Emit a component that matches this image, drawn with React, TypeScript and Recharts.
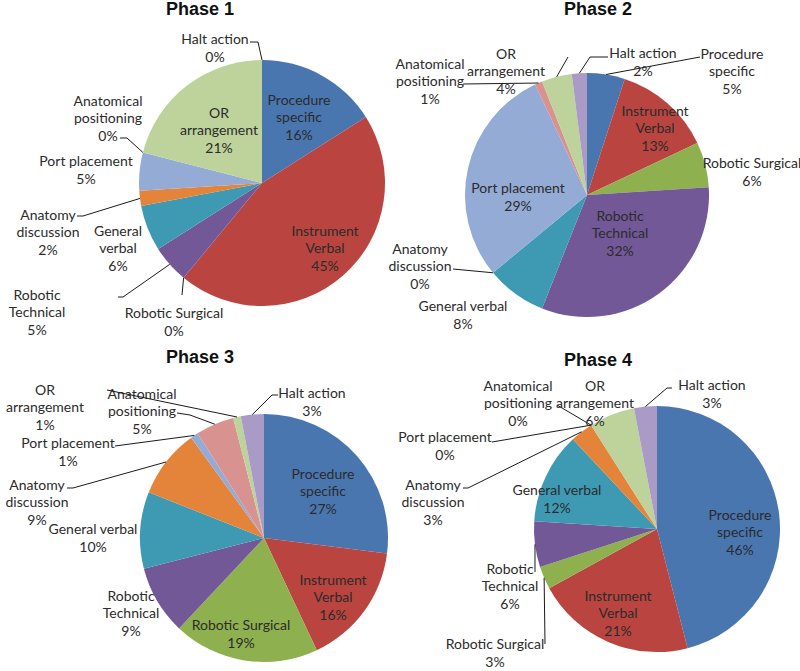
import { PieChart, Pie, Cell } from "recharts"

const categories = [
  "Procedure specific",
  "Instrument Verbal",
  "Robotic Surgical",
  "Robotic Technical",
  "General verbal",
  "Anatomy discussion",
  "Port placement",
  "Anatomical positioning",
  "OR arrangement",
  "Halt action",
]

const phase1Values = [16, 45, 0, 5, 6, 2, 5, 0, 21, 0]
const phase2Values = [5, 13, 6, 32, 8, 0, 29, 1, 4, 2]
const phase3Values = [27, 16, 19, 9, 10, 9, 1, 5, 1, 3]
const phase4Values = [46, 21, 3, 6, 12, 3, 0, 0, 6, 3]

const phaseTitles = ["Phase 1", "Phase 2", "Phase 3", "Phase 4"]

const colors = [
  "#4A76B0",
  "#BA4540",
  "#8FB04F",
  "#735897",
  "#3E9AB3",
  "#E4843A",
  "#94ABD6",
  "#D8928F",
  "#BDD39B",
  "#A99BC6",
]

// label layout: [dx, dy, wrapWords, leader points] relative to the pie centre
type Spot = [number, number, boolean, number[][]?]

const spots1: Spot[] = [
  [37, -66, true],
  [63, 65, true],
  [-88, 139, false, [[-80, 112]]],
  [-225, 129, true, [[-144, 114], [-139, 114]]],
  [-144, 65, true],
  [-214, 49, true, [[-185, 33], [-179, 33]]],
  [-176, -13, false],
  [-154, -65, true, [[-142, -45], [-135, -45]]],
  [-43, -53, true],
  [-47, -135, false, [[-12, -141], [-4, -141]]],
]

const spots2: Spot[] = [
  [145, -124, true, [[113, -138]]],
  [68, -67, true],
  [165, -23, false],
  [33, 38, true],
  [-124, 120, false],
  [-167, 71, true, [[-134, 74]]],
  [-69, 2, false],
  [-157, -114, true, [[-124, -111]]],
  [-81, -124, true, [[-19, -138]]],
  [56, -133, false, [[21, -138], [3, -138]]],
]

const spots3: Spot[] = [
  [59, -47, true],
  [69, 59, true],
  [-23, 96, false],
  [-133, 75, true],
  [-171, 0, false],
  [-227, -36, true, [[-197, -50], [-191, -50]]],
  [-196, -86, false, [[-149, -92]]],
  [-122, -127, true, [[-87, -125], [-74, -123]]],
  [-219, -131, true, [[-157, -148]]],
  [48, -136, false, [[14, -143], [8, -143]]],
]

const spots4: Spot[] = [
  [83, 3, true],
  [-39, 84, true],
  [-162, 124, false, [[-112, 115]]],
  [-147, 57, true, [[-122, 43]]],
  [-100, -30, false],
  [-224, -27, true, [[-194, -41], [-189, -41]]],
  [-212, -83, false, [[-165, -87]]],
  [-139, -126, true, [[-100, -124]]],
  [-62, -126, true],
  [55, -135, false, [[15, -141], [10, -141]]],
]

const pies = [
  { values: phase1Values, spots: spots1, cx: 257, cy: 178, r: 123, titleX: 200, titleY: 0 },
  { values: phase2Values, spots: spots2, cx: 582, cy: 190, r: 122, titleX: 598, titleY: 0 },
  { values: phase3Values, spots: spots3, cx: 259, cy: 533, r: 124, titleX: 200, titleY: 348 },
  { values: phase4Values, spots: spots4, cx: 652, cy: 524, r: 123, titleX: 598, titleY: 351 },
]

const RAD = Math.PI / 180
const LINE_H = 17.5

function makeLabel(spots: Spot[]) {
  return (props: any) => {
    const { cx, cy, midAngle, outerRadius, percent, index } = props
    const [dx, dy, wrap, leader] = spots[index]
    const name = categories[index]
    const lines = [...(wrap ? name.split(" ") : [name]), `${Math.round(percent * 100)}%`]
    const x = cx + dx
    const top = cy + dy - ((lines.length - 1) * LINE_H) / 2
    let line = null
    if (leader) {
      const ex = cx + outerRadius * Math.cos(-midAngle * RAD)
      const ey = cy + outerRadius * Math.sin(-midAngle * RAD)
      const pts = [...leader.map(([a, b]) => [cx + a, cy + b]), [ex, ey]]
      line = (
        <polyline
          points={pts.map((p) => p.join(",")).join(" ")}
          fill="none"
          stroke="#1a1a1a"
          strokeWidth={1}
        />
      )
    }
    return (
      <g>
        {line}
        <text x={x} textAnchor="middle" fill="#2b2b2b" fontSize={14} fontFamily="Lato, sans-serif">
          {lines.map((l, i) => (
            <tspan key={i} x={x} y={top + i * LINE_H + 5}>
              {l}
            </tspan>
          ))}
        </text>
      </g>
    )
  }
}

export default function App() {
  return (
    <div style={{ position: "absolute", left: 0, top: 0, width: 800, height: 671, background: "#fff" }}>
      {pies.map((p, k) => (
        <div
          key={k}
          style={{
            position: "absolute",
            left: p.titleX - 60,
            top: p.titleY,
            width: 120,
            textAlign: "center",
            fontFamily: "'Liberation Sans', Arial, sans-serif",
            fontWeight: "bold",
            fontSize: 18,
            lineHeight: "18px",
            color: "#111",
          }}
        >
          {phaseTitles[k]}
        </div>
      ))}
      <PieChart width={800} height={671}>
        {pies.map((p, k) => (
          <Pie
            key={k}
            data={categories.map((name, i) => ({ name, value: p.values[i] }))}
            dataKey="value"
            nameKey="name"
            cx={p.cx}
            cy={p.cy}
            outerRadius={p.r}
            startAngle={90}
            endAngle={-270}
            stroke="none"
            labelLine={false}
            label={makeLabel(p.spots)}
            isAnimationActive={false}
          >
            {categories.map((c, i) => (
              <Cell key={c} fill={colors[i]} />
            ))}
          </Pie>
        ))}
      </PieChart>
    </div>
  )
}
